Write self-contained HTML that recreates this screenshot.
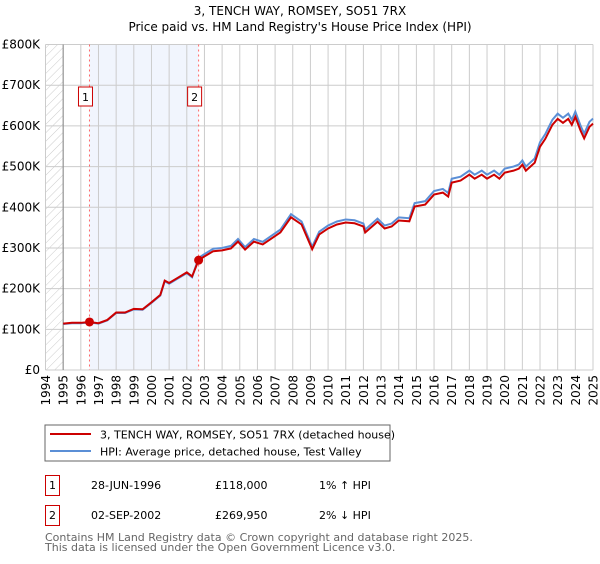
<!DOCTYPE html>
<html><head><meta charset="utf-8"><style>
body{margin:0;background:#fff;font-family:"DejaVu Sans","Liberation Sans",sans-serif;}
svg text{font-family:"DejaVu Sans","Liberation Sans",sans-serif;}
</style></head><body>
<svg id="chart" width="600" height="560" xmlns="http://www.w3.org/2000/svg">
<defs><pattern id="hatch" width="6" height="6" patternUnits="userSpaceOnUse" patternTransform="rotate(45)"><line x1="0" y1="0" x2="0" y2="6" stroke="#ccc" stroke-width="1"/></pattern></defs>
<text x="300" y="15" text-anchor="middle" font-size="12">3, TENCH WAY, ROMSEY, SO51 7RX</text>
<text x="300" y="31" text-anchor="middle" font-size="12">Price paid vs. HM Land Registry's House Price Index (HPI)</text>
<g id="grid"></g><g id="marks"></g><g id="axes"></g>
<rect x="45" y="425" width="345" height="36" fill="#fff" stroke="#666"/>
<line x1="50" y1="434" x2="91" y2="434" stroke="#cc0000" stroke-width="2"/>
<text x="100" y="438.5" font-size="11">3, TENCH WAY, ROMSEY, SO51 7RX (detached house)</text>
<line x1="50" y1="451" x2="91" y2="451" stroke="#5b8fd6" stroke-width="2"/>
<text x="100" y="455.5" font-size="11">HPI: Average price, detached house, Test Valley</text>
<g font-size="11">
<rect x="45.5" y="475.5" width="14" height="20" fill="none" stroke="#cc0000"/>
<text x="52.5" y="489" text-anchor="middle">1</text>
<text x="91" y="489">28-JUN-1996</text><text x="215" y="489">£118,000</text><text x="319" y="489">1% ↑ HPI</text></g>
<g font-size="11">
<rect x="45.5" y="505.5" width="14" height="20" fill="none" stroke="#cc0000"/>
<text x="52.5" y="519" text-anchor="middle">2</text>
<text x="91" y="519">02-SEP-2002</text><text x="215" y="519">£269,950</text><text x="319" y="519">2% ↓ HPI</text></g>
<text x="45" y="541" font-size="11" fill="#666">Contains HM Land Registry data © Crown copyright and database right 2025.</text>
<text x="45" y="551" font-size="11" fill="#666">This data is licensed under the Open Government Licence v3.0.</text>
</svg>
<script>
const hpiYears=[1995,1995.5,1996,1996.49,1997,1997.5,1998,1998.5,1999,1999.5,2000,2000.5,2000.75,2001,2001.5,2002,2002.3,2002.67,2003,2003.5,2004,2004.5,2004.9,2005.3,2005.8,2006.3,2006.8,2007.3,2007.9,2008.5,2009.1,2009.5,2010,2010.5,2011,2011.5,2012,2012.1,2012.8,2013.2,2013.6,2014,2014.6,2014.9,2015.5,2016,2016.5,2016.8,2017,2017.5,2018,2018.3,2018.7,2019,2019.4,2019.7,2020,2020.5,2020.8,2021,2021.2,2021.7,2022,2022.3,2022.7,2023,2023.3,2023.6,2023.8,2024,2024.3,2024.5,2024.8,2025];
const hpiValues=[113,115,115,117,114,122,140,140,149,148,165,183,218,212,225,238,228,275.5,285,298,300,305,322,302,322,315,330,345,383,365,303,340,355,365,370,368,360,345,372,355,360,375,373,410,415,440,445,435,470,475,490,480,490,480,490,480,495,500,505,515,500,520,560,580,615,630,620,630,615,635,600,581,610,618];
const saleYears=[1996.49,2002.67];
const salePrices=[118,269.95];
const yTicks=[0,100,200,300,400,500,600,700,800];
const yTickLabels=["£0","£100K","£200K","£300K","£400K","£500K","£600K","£700K","£800K"];
const xTicks=[1994,1995,1996,1997,1998,1999,2000,2001,2002,2003,2004,2005,2006,2007,2008,2009,2010,2011,2012,2013,2014,2015,2016,2017,2018,2019,2020,2021,2022,2023,2024,2025];
const NS="http://www.w3.org/2000/svg";
const X0=45.5,X1=593,Y0=370,Y1=44.5;
const xs=y=>X0+(y-1994)/(2025-1994)*(X1-X0);
const ys=v=>Y0-v/800*(Y0-Y1);
function mk(p,t,a){const e=document.createElementNS(NS,t);for(const k in a)e.setAttribute(k,a[k]);p.appendChild(e);return e;}
const grid=document.getElementById('grid'),marks=document.getElementById('marks'),axes=document.getElementById('axes');
const hr=mk(grid,'rect',{x:X0,y:Y1,width:xs(1995)-X0,height:Y0-Y1,fill:'url(#hatch)'});


const sh=mk(grid,'rect',{x:xs(saleYears[0]),y:Y1,width:xs(saleYears[1])-xs(saleYears[0]),height:Y0-Y1,fill:'#eef3fd',opacity:0.8});


yTicks.forEach((v,i)=>{
 const l=mk(grid,'line',{x1:X0,x2:X1,y1:ys(v),y2:ys(v),stroke:'#ccc'});
 
 
 const t=mk(axes,'text',{x:40,y:ys(v)+4,'text-anchor':'end','font-size':'12'});t.textContent=yTickLabels[i];
 
 
});
xTicks.forEach(y=>{
 const l=mk(grid,'line',{x1:xs(y),x2:xs(y),y1:Y1,y2:Y0,stroke:'#ccc'});
 
 
 const t=mk(axes,'text',{x:0,y:0,'text-anchor':'end','font-size':'12',transform:`translate(${xs(y)+4.5},375) rotate(-90)`});t.textContent=y;
 
 
});
const ax=mk(grid,'line',{x1:xs(1995),x2:xs(1995),y1:Y1,y2:Y0,stroke:'#888'});


function interp(x){for(let i=1;i<hpiYears.length;i++){if(x<=hpiYears[i]){const t=(x-hpiYears[i-1])/(hpiYears[i]-hpiYears[i-1]);return hpiValues[i-1]+t*(hpiValues[i]-hpiValues[i-1]);}}return hpiValues[hpiValues.length-1];}
const hp=mk(marks,'polyline',{fill:'none',stroke:'#5b8fd6','stroke-width':2,points:hpiYears.map((y,i)=>xs(y)+','+ys(hpiValues[i])).join(' ')});


const r1=salePrices[0]/interp(saleYears[0]),r2=salePrices[1]/interp(saleYears[1]);
const pp=mk(marks,'polyline',{fill:'none',stroke:'#cc0000','stroke-width':2,points:hpiYears.map((y,i)=>xs(y)+','+ys(hpiValues[i]*(y<saleYears[1]?r1:r2))).join(' ')});


saleYears.forEach((y,i)=>{
 const l=mk(marks,'line',{x1:xs(y),x2:xs(y),y1:Y1,y2:Y0,stroke:'#f66','stroke-dasharray':'2,3'});
 
 
 const d=mk(marks,'circle',{cx:xs(y),cy:ys(salePrices[i]),r:4.5,fill:'#cc0000'});
 
 
 const b=mk(marks,'rect',{x:xs(y)-11,y:87,width:14,height:19,fill:'#fff',stroke:'#cc0000'});
 
 
 const t=mk(marks,'text',{x:xs(y)-4,y:101,'text-anchor':'middle','font-size':'11'});t.textContent=i+1;
 
 
});
</script>
</body></html>
